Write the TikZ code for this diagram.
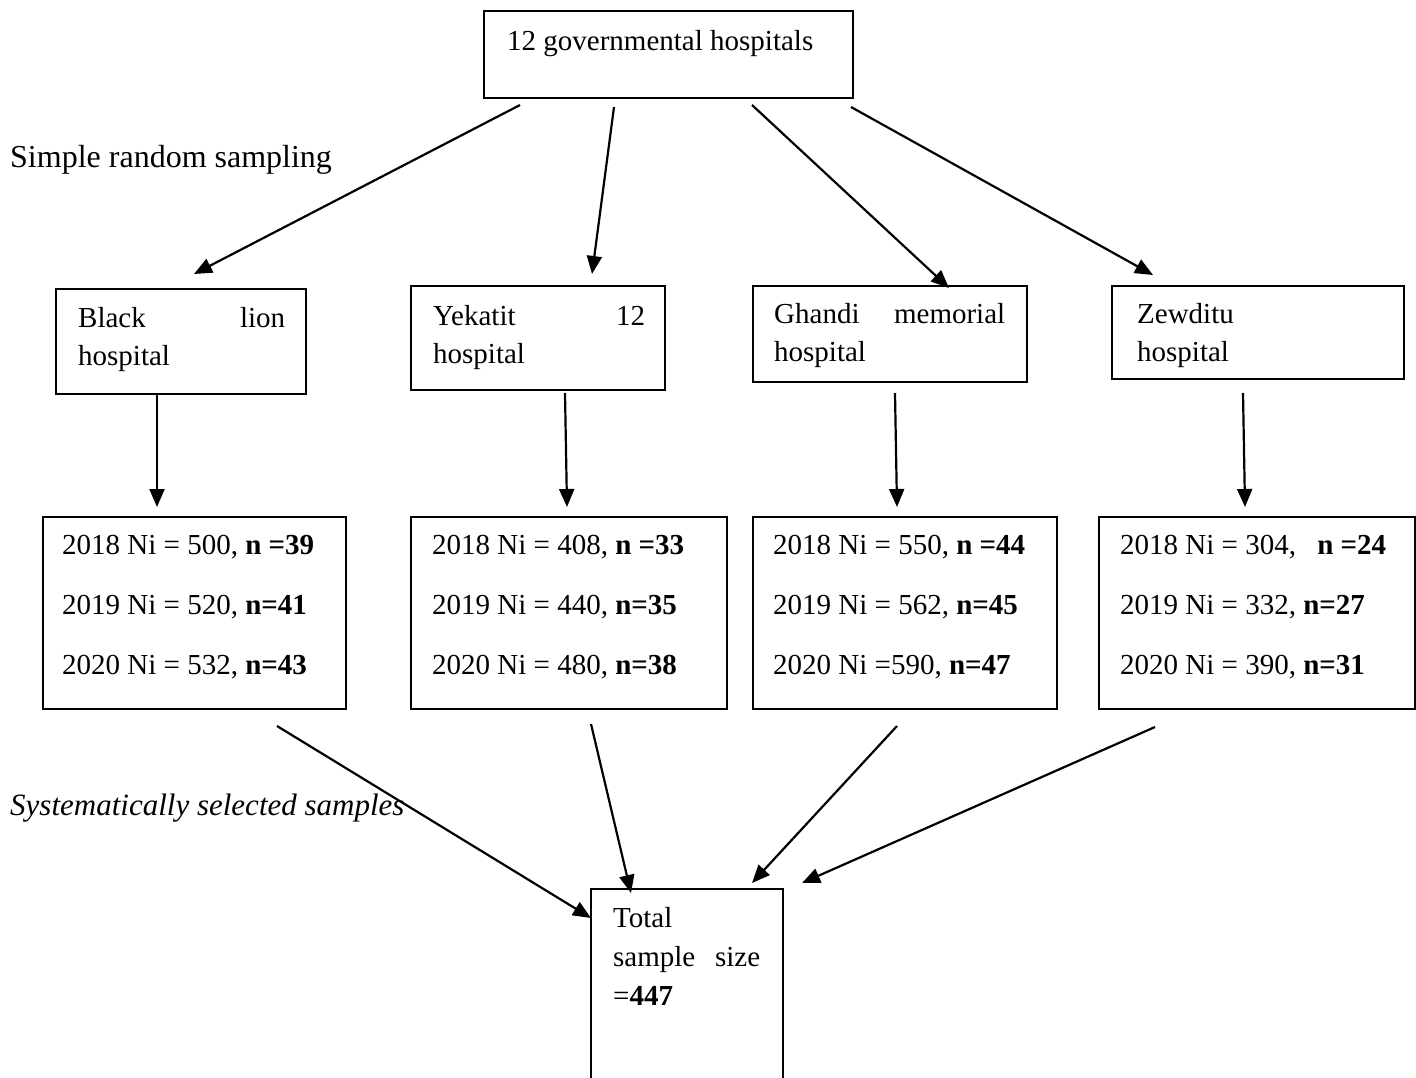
\documentclass[tikz,border=0pt]{standalone}
\usepackage{fontspec}
\setmainfont{Liberation Serif}
\usetikzlibrary{arrows.meta}
\begin{document}
\begin{tikzpicture}[x=1pt,y=-1pt,
  box/.style={draw,line width=2pt,inner sep=0pt,anchor=north west},
  txt/.style={inner sep=0pt,anchor=north west,align=left,font=\fontsize{29}{38}\selectfont},
  lbl/.style={inner sep=0pt,anchor=north west,align=left,font=\fontsize{32}{38}\selectfont},
  datatxt/.style={inner sep=0pt,anchor=north west,align=left,font=\fontsize{29}{60}\selectfont},
  arr/.style={line width=2.2pt,-{Triangle[length=18pt,width=15pt]}}]
\clip (0,0) rectangle (1416,1078);
\fill[white] (0,0) rectangle (1416,1078);
% boxes
\node[box,minimum width=369pt,minimum height=87pt] (top) at (483,10) {};
\node[box,minimum width=250pt,minimum height=105pt] (b1) at (55,288) {};
\node[box,minimum width=254pt,minimum height=104pt] (b2) at (410,285) {};
\node[box,minimum width=274pt,minimum height=96pt] (b3) at (752,285) {};
\node[box,minimum width=292pt,minimum height=93pt] (b4) at (1111,285) {};
\node[box,minimum width=303pt,minimum height=192pt] (d1) at (42,516) {};
\node[box,minimum width=316pt,minimum height=192pt] (d2) at (410,516) {};
\node[box,minimum width=304pt,minimum height=192pt] (d3) at (752,516) {};
\node[box,minimum width=316pt,minimum height=192pt] (d4) at (1098,516) {};
\node[box,minimum width=192pt,minimum height=260pt] (tot) at (590,888) {};
% texts
\node[txt] (ttop) at (507,30) {12 governmental hospitals};
\node[lbl] (tsrs) at (10,145) {Simple random sampling};
\node[txt,text width=207pt] (tb1) at (78,307) {Black\hfill lion\\hospital};
\node[txt,text width=212pt] (tb2) at (433,305) {Yekatit\hfill 12\\hospital};
\node[txt,text width=231pt] (tb3) at (774,303) {Ghandi\hfill memorial\\hospital};
\node[txt,text width=240pt] (tb4) at (1137,303) {Zewditu\\hospital};
\node[datatxt] (td1) at (62,535) {2018 Ni = 500, \textbf{n =39}\\2019 Ni = 520, \textbf{n=41}\\2020 Ni = 532, \textbf{n=43}};
\node[datatxt] (td2) at (432,535) {2018 Ni = 408, \textbf{n =33}\\2019 Ni = 440, \textbf{n=35}\\2020 Ni = 480, \textbf{n=38}};
\node[datatxt] (td3) at (773,535) {2018 Ni = 550, \textbf{n =44}\\2019 Ni = 562, \textbf{n=45}\\2020 Ni =590, \textbf{n=47}};
\node[datatxt] (td4) at (1120,535) {2018 Ni = 304,\hspace{14pt} \textbf{n =24}\\2019 Ni = 332, \textbf{n=27}\\2020 Ni = 390, \textbf{n=31}};
\node[lbl,font=\fontsize{31}{38}\selectfont\itshape] (tsys) at (10,794) {Systematically selected samples};
\node[txt,text width=147pt,font=\fontsize{29}{39}\selectfont] (ttot) at (613,907) {Total\\sample\hfill size\\=\textbf{447}};
% arrow end points
\coordinate (s1) at (520,105); \coordinate (e1) at (194,274);
\coordinate (s2) at (614,107); \coordinate (e2) at (592,274);
\coordinate (s3) at (752,105); \coordinate (e3) at (949,288);
\coordinate (s4) at (851,107); \coordinate (e4) at (1153,275);
\coordinate (v1s) at (157,395); \coordinate (v1e) at (157,507);
\coordinate (v2s) at (565,393); \coordinate (v2e) at (567,507);
\coordinate (v3s) at (895,393); \coordinate (v3e) at (897,507);
\coordinate (v4s) at (1243,393); \coordinate (v4e) at (1245,507);
\coordinate (c1s) at (277,726); \coordinate (c1e) at (591,918);
\coordinate (c2s) at (591,724); \coordinate (c2e) at (631,893);
\coordinate (c3s) at (897,726); \coordinate (c3e) at (752,883);
\coordinate (c4s) at (1155,727); \coordinate (c4e) at (802,883);
\foreach \a in {1,2,3,4}{
  \draw[arr] (s\a) -- (e\a);
  \draw[arr] (v\a s) -- (v\a e);
  \draw[arr] (c\a s) -- (c\a e);
}
\end{tikzpicture}
\end{document}
